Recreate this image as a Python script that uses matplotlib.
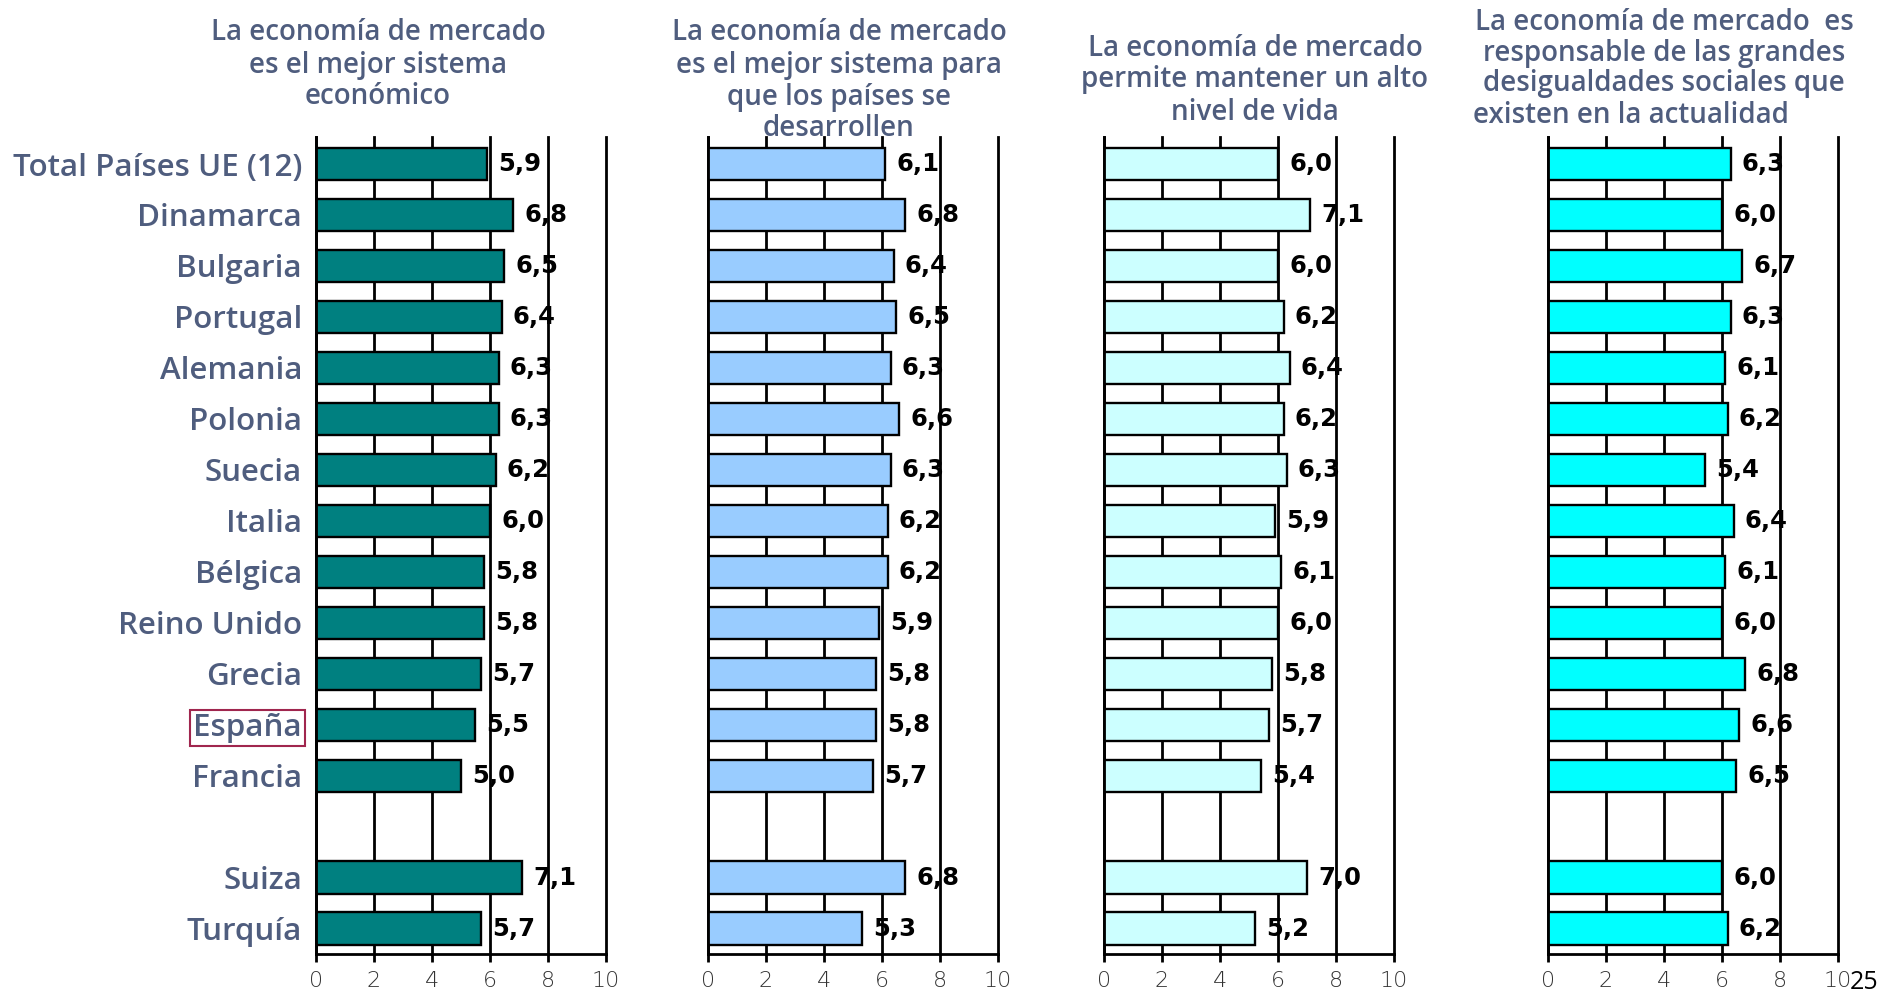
import matplotlib
matplotlib.use("Agg")
import matplotlib.pyplot as plt

# ---------------- data ----------------
countries_main = ["Total Países UE (12)", "Dinamarca", "Bulgaria", "Portugal", "Alemania",
                  "Polonia", "Suecia", "Italia", "Bélgica", "Reino Unido", "Grecia",
                  "España", "Francia"]
countries_extra = ["Suiza", "Turquía"]

titles = [
    ["La economía de mercado", "es el mejor sistema", "económico"],
    ["La economía de mercado", "es el mejor sistema para", "que los países se", "desarrollen"],
    ["La economía de mercado", "permite mantener un alto", "nivel de vida"],
    ["La economía de mercado  es", "responsable de las grandes", "desigualdades sociales que",
     "existen en la actualidad"],
]

mejor_sistema_economico = [5.9, 6.8, 6.5, 6.4, 6.3, 6.3, 6.2, 6.0, 5.8, 5.8, 5.7, 5.5, 5.0, 7.1, 5.7]
mejor_sistema_desarrollo = [6.1, 6.8, 6.4, 6.5, 6.3, 6.6, 6.3, 6.2, 6.2, 5.9, 5.8, 5.8, 5.7, 6.8, 5.3]
alto_nivel_vida = [6.0, 7.1, 6.0, 6.2, 6.4, 6.2, 6.3, 5.9, 6.1, 6.0, 5.8, 5.7, 5.4, 7.0, 5.2]
desigualdades = [6.3, 6.0, 6.7, 6.3, 6.1, 6.2, 5.4, 6.4, 6.1, 6.0, 6.8, 6.6, 6.5, 6.0, 6.2]

x_ticks = [0, 2, 4, 6, 8, 10]
page_number = "25"
highlight = "España"

# ---------------- layout / style ----------------
W, H = 1881, 997
fig = plt.figure(figsize=(W / 100, H / 100), dpi=100)

series = [mejor_sistema_economico, mejor_sistema_desarrollo, alto_nivel_vida, desigualdades]
colors = ["#008080", "#99CCFF", "#CCFFFF", "#00FFFF"]
ax_left_px = [316, 708, 1104, 1548]
ax_w_px = 290
ax_top_px, ax_bot_px = 137, 954

labels = countries_main + countries_extra
positions = list(range(len(countries_main))) + [len(countries_main) + 1 + i for i in range(len(countries_extra))]

label_color = "#4F5D7E"
title_centers = [378, 839, 1255, 1664]
title_line_y = [
    [32, 65, 97],
    [33, 65, 97, 128],
    [48, 80, 112],
    [22, 53, 84, 115],
]

def fmt(v):
    return f"{v:.1f}".replace(".", ",")

for k, vals in enumerate(series):
    ax = fig.add_axes([ax_left_px[k] / W, 1 - ax_bot_px / H, ax_w_px / W, (ax_bot_px - ax_top_px) / H])
    ax.barh(positions, vals, height=0.63, color=colors[k], edgecolor="black", linewidth=1.7, zorder=3)
    ax.set_xlim(0, 10)
    ax.set_ylim(15.5, -0.53)
    ax.set_xticks(x_ticks)
    ax.set_xticklabels([str(t) for t in x_ticks], fontsize=16, family="DejaVu Sans",
                       color="#333333", fontweight="light")
    ax.tick_params(axis="x", direction="out", length=6, width=2, pad=6, color="black")
    ax.grid(axis="x", color="black", linewidth=2.0, zorder=2)
    ax.set_axisbelow(False)
    for gl in ax.get_xgridlines():
        gl.set_zorder(2)
        gl.set_clip_on(False)
    for s in ["top", "right"]:
        ax.spines[s].set_visible(False)
    for s in ["left", "bottom"]:
        ax.spines[s].set_linewidth(2)
        ax.spines[s].set_color("black")
        ax.spines[s].set_zorder(4)
    if k == 0:
        ax.set_yticks(positions)
        ax.set_yticklabels(labels, fontsize=22.5, family="Open Sans", fontweight="semibold",
                           color=label_color)
        ax.tick_params(axis="y", length=0, pad=10)
        for tl in ax.get_yticklabels():
            if tl.get_text() == highlight:
                tl.set_bbox(dict(boxstyle="square,pad=0.1", facecolor="none",
                                 edgecolor="#A0264E", linewidth=1.5))
    else:
        ax.set_yticks([])
    for p, v in zip(positions, vals):
        ax.annotate(fmt(v), xy=(v, p), xytext=(8, 0), textcoords="offset points",
                    ha="left", va="center", fontsize=17.5, fontweight="bold",
                    family="DejaVu Sans", color="black", zorder=1)

    # title
    lines = titles[k]
    for i, line in enumerate(lines):
        y = 1 - title_line_y[k][i] / H
        if k == 3 and i == len(lines) - 1:
            fig.text(1473 / W, y, line, ha="left", va="center", fontsize=20,
                     family="Open Sans", fontweight="semibold", color=label_color)
        else:
            fig.text(title_centers[k] / W, y, line, ha="center", va="center", fontsize=20,
                     family="Open Sans", fontweight="semibold", color=label_color)

fig.text(1850 / W, 2 / H, page_number, ha="left", va="bottom", fontsize=18,
         family="Open Sans", color="black")

fig.savefig("out.png", dpi=100)
